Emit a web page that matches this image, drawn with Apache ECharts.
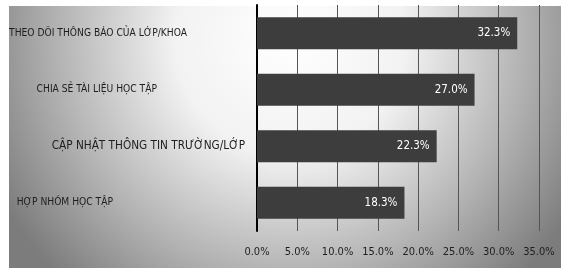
<!DOCTYPE html>
<html>
<head>
<meta charset="utf-8">
<script src="https://cdn.jsdelivr.net/npm/echarts@6/dist/echarts.min.js"></script>
<style>html,body{margin:0;padding:0;background:#fff;}#c{width:561px;height:268px;}</style>
</head>
<body>
<div id="c"></div>
<script>
var categories = ["THEO DÕI THÔNG BÁO CỦA LỚP/KHOA", "CHIA SẺ TÀI LIỆU HỌC TẬP", "CẬP NHẬT THÔNG TIN TRƯỜNG/LỚP", "HỢP NHÓM HỌC TẬP"];
var values = [32.3, 27.0, 22.3, 18.3];
var xTicks = [0, 5, 10, 15, 20, 25, 30, 35];

var FONT = '"DejaVu Sans Condensed", "Liberation Sans Narrow", "Noto Sans", sans-serif';
var labelPad = [70, 100, 12, 144];
var labelSize = [10.2, 10.2, 11.7, 10.2];
var rich = {};
labelPad.forEach(function (p, i) {
  rich['a' + i] = { padding: [0, p, 0, 0], fontSize: labelSize[i], fontFamily: FONT, color: '#1e1e1e' };
});

var chart = echarts.init(document.getElementById('c'), null, { renderer: 'canvas' });
chart.setOption({
  animation: false,
  backgroundColor: '#ffffff',
  graphic: [{
    type: 'rect', z: -10, silent: true,
    shape: { x: 9, y: 6, width: 552, height: 262 },
    style: {
      fill: {
        type: 'radial', x: 290, y: 40, r: 330, global: true,
        colorStops: [
          { offset: 0, color: '#ffffff' },
          { offset: 0.35, color: '#f2f2f2' },
          { offset: 0.7, color: '#b4b4b4' },
          { offset: 1, color: '#7c7c7c' }
        ]
      }
    }
  }],
  grid: { left: 257, right: 22, top: 5, bottom: 37, containLabel: false, outerBoundsMode: 'none' },
  xAxis: {
    type: 'value', min: 0, max: 35, interval: 5,
    axisLine: { show: false },
    axisTick: { show: false },
    splitLine: { show: true, lineStyle: { color: '#555', width: 1 } },
    axisLabel: {
      margin: 16, color: '#1e1e1e', fontSize: 11, fontFamily: FONT,
      formatter: function (v) { return xTicks.indexOf(v) >= 0 ? v.toFixed(1) + '%' : ''; }
    }
  },
  yAxis: {
    type: 'category', data: categories, inverse: true,
    axisLine: { show: true, lineStyle: { color: '#000', width: 2 } },
    axisTick: { show: false },
    axisLabel: {
      margin: 0, rich: rich,
      formatter: function (v, i) { return '{a' + i + '|' + v + '}'; }
    }
  },
  series: [{
    type: 'bar', data: values, barWidth: 32,
    itemStyle: { color: '#3d3d3d' },
    label: {
      show: true, position: 'insideRight', distance: 7,
      color: '#ffffff', fontSize: 11.5, fontFamily: FONT,
      formatter: function (p) { return p.value.toFixed(1) + '%'; }
    }
  }]
});
</script>
</body>
</html>
